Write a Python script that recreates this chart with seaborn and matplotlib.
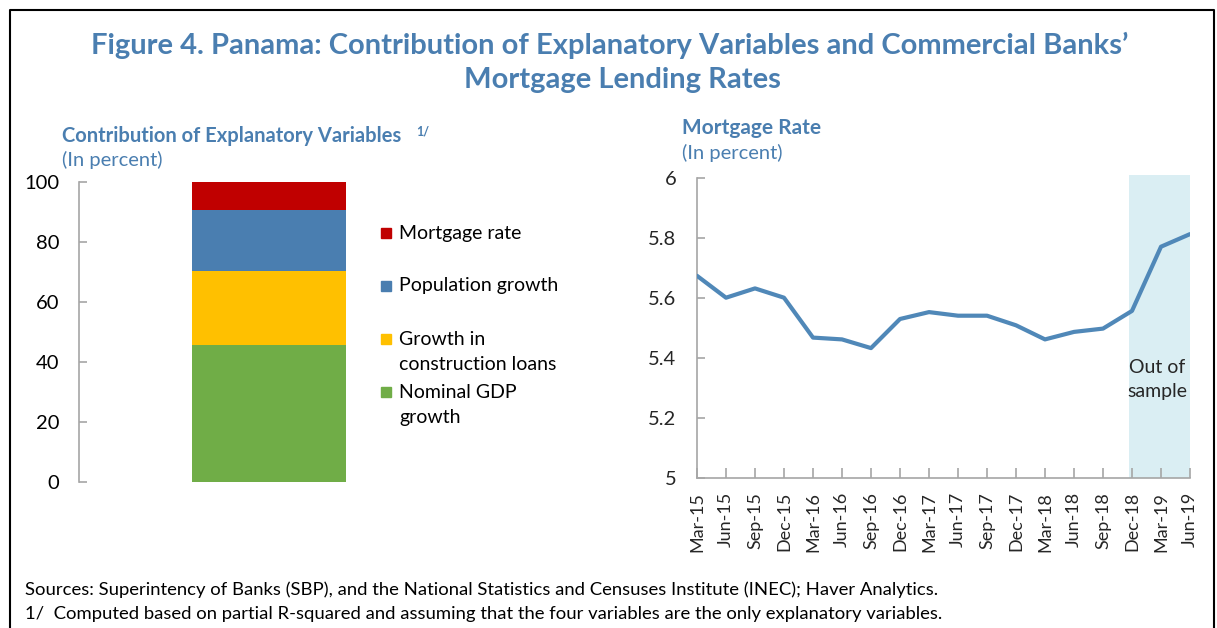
import numpy as np
import pandas as pd
import matplotlib
matplotlib.use("Agg")
import matplotlib.pyplot as plt
import seaborn as sns
from matplotlib.patches import Rectangle
from matplotlib.lines import Line2D

# ---------------- data ----------------
variables = ["Nominal GDP growth", "Growth in construction loans",
             "Population growth", "Mortgage rate"]
contrib = [45.6, 24.6, 20.4, 9.4]
bar_colors = ["#70AD47", "#FFC000", "#4A7EB0", "#C00000"]
legend_labels = ["Mortgage rate", "Population growth",
                 "Growth in\nconstruction loans", "Nominal GDP\ngrowth"]
legend_colors = ["#C00000", "#4A7EB0", "#FFC000", "#70AD47"]
left_yticks = [0, 20, 40, 60, 80, 100]

dates = ["Mar-15", "Jun-15", "Sep-15", "Dec-15", "Mar-16", "Jun-16",
         "Sep-16", "Dec-16", "Mar-17", "Jun-17", "Sep-17", "Dec-17",
         "Mar-18", "Jun-18", "Sep-18", "Dec-18", "Mar-19", "Jun-19"]
rate = [5.674, 5.601, 5.632, 5.601, 5.468, 5.462, 5.433, 5.530, 5.553,
        5.541, 5.541, 5.509, 5.462, 5.487, 5.498, 5.557, 5.771, 5.813]
right_yticks = [5, 5.2, 5.4, 5.6, 5.8, 6]
right_ytick_labels = ["5", "5.2", "5.4", "5.6", "5.8", "6"]
out_of_sample_start = "Dec-18"

TITLE_BLUE = "#4A7EB0"
LINE_BLUE = "#5088B8"
SPINE = "#A6A6A6"
SHADE = "#DAEEF3"

sns.set_theme(style="white")
plt.rcParams["font.family"] = ["Lato", "DejaVu Sans"]

W, H = 1217, 628
fig = plt.figure(figsize=(W / 100, H / 100), dpi=100)

def fx(px):
    return px / W

def fy(py):
    return 1 - py / H

TICK_FS = 14.5
LEG_FS = 14

# ---------------- left panel: stacked bar ----------------
axL = fig.add_axes([fx(79), fy(482), fx(459) - fx(79), fy(182) - fy(482)])
cum = np.cumsum(contrib)
for i in range(len(contrib) - 1, -1, -1):
    df = pd.DataFrame({"cat": ["all"], "val": [cum[i]]})
    sns.barplot(data=df, x="cat", y="val", color=bar_colors[i],
                saturation=1, width=0.8, ax=axL, linewidth=0)
axL.set_xlim(-0.992, 0.992)
axL.set_ylim(0, 100)
axL.set_yticks(left_yticks)
axL.set_yticklabels([str(t) for t in left_yticks])
axL.set_xticks([])
axL.set_xlabel("")
axL.set_ylabel("")
for s in ["top", "right", "bottom"]:
    axL.spines[s].set_visible(False)
axL.spines["left"].set_color(SPINE)
axL.spines["left"].set_linewidth(1.2)
axL.tick_params(axis="y", direction="in", length=6, width=1.2, color=SPINE,
                pad=14, labelsize=TICK_FS, labelcolor="black", left=True)

# legend (manual)
leg_y = [233, 286, 339, 392]
for lab, col, yy in zip(legend_labels, legend_colors, leg_y):
    fig.patches.append(Rectangle((fx(381), fy(yy + 5)), fx(10), 10 / H,
                                 transform=fig.transFigure, color=col))
    for k, ln in enumerate(lab.split("\n")):
        fig.text(fx(399), fy(yy + 26 * k), ln, ha="left", va="center",
                 fontsize=LEG_FS, color="black")

# ---------------- right panel: line ----------------
axR = fig.add_axes([fx(697), fy(478), fx(1190) - fx(697), fy(178) - fy(478)])
x_idx = np.arange(len(dates))
start = dates.index(out_of_sample_start)
axR.axvspan(start - 0.1, len(dates) - 1, ymin=0, ymax=1.01, color=SHADE,
            lw=0, clip_on=False, zorder=0)
sns.lineplot(x=x_idx, y=rate, color=LINE_BLUE, linewidth=3, ax=axR, zorder=3)
axR.set_xlim(0, len(dates) - 1)
axR.set_ylim(5, 6)
axR.set_yticks(right_yticks)
axR.set_yticklabels(right_ytick_labels)
axR.set_xticks(x_idx)
axR.set_xticklabels(dates, rotation=90)
for s in ["top", "right"]:
    axR.spines[s].set_visible(False)
for s in ["left", "bottom"]:
    axR.spines[s].set_color(SPINE)
    axR.spines[s].set_linewidth(1.2)
axR.tick_params(axis="y", direction="in", length=6, width=1.2, color=SPINE,
                pad=15, labelsize=TICK_FS, left=True)
axR.tick_params(axis="x", direction="in", length=7, width=1.2, color=SPINE,
                pad=10, labelsize=13, bottom=True)
axR.text(start + 0.86, 5.367, "Out of", ha="center", va="center", fontsize=LEG_FS)
axR.text(start + 0.86, 5.287, "sample", ha="center", va="center", fontsize=LEG_FS)

# ---------------- titles ----------------
fig.text(fx(610), fy(45), "Figure 4. Panama: Contribution of Explanatory Variables and Commercial Banks\u2019",
         ha="center", va="center", fontsize=21, fontweight="bold", color=TITLE_BLUE)
fig.text(fx(622), fy(80), "Mortgage Lending Rates",
         ha="center", va="center", fontsize=21, fontweight="bold", color=TITLE_BLUE)

fig.text(fx(62), fy(136), "Contribution of Explanatory Variables", ha="left", va="center",
         fontsize=14.5, fontweight="bold", color=TITLE_BLUE)
fig.text(fx(416), fy(132), "1/", ha="left", va="center", fontsize=9,
         fontweight="bold", color=TITLE_BLUE)
fig.text(fx(62), fy(160), "(In percent)", ha="left", va="center",
         fontsize=14.5, color=TITLE_BLUE)
fig.text(fx(682), fy(128), "Mortgage Rate", ha="left", va="center",
         fontsize=15, fontweight="bold", color=TITLE_BLUE)
fig.text(fx(682), fy(153), "(In percent)", ha="left", va="center",
         fontsize=14.5, color=TITLE_BLUE)

# ---------------- footer ----------------
fig.text(fx(25), fy(590), "Sources: Superintency of Banks (SBP), and the National Statistics and Censuses Institute (INEC); Haver Analytics.",
         ha="left", va="center", fontsize=13.3, color="black")
fig.text(fx(25), fy(614), "1/  Computed based on partial R-squared and assuming that the four variables are the only explanatory variables.",
         ha="left", va="center", fontsize=13.3, color="black")

# ---------------- frame ----------------
fig.add_artist(Line2D([fx(10), fx(10), fx(1214), fx(1214)],
                      [0, fy(10), fy(10), 0], transform=fig.transFigure,
                      color="black", linewidth=1.5))

fig.savefig("out.png", dpi=100)
